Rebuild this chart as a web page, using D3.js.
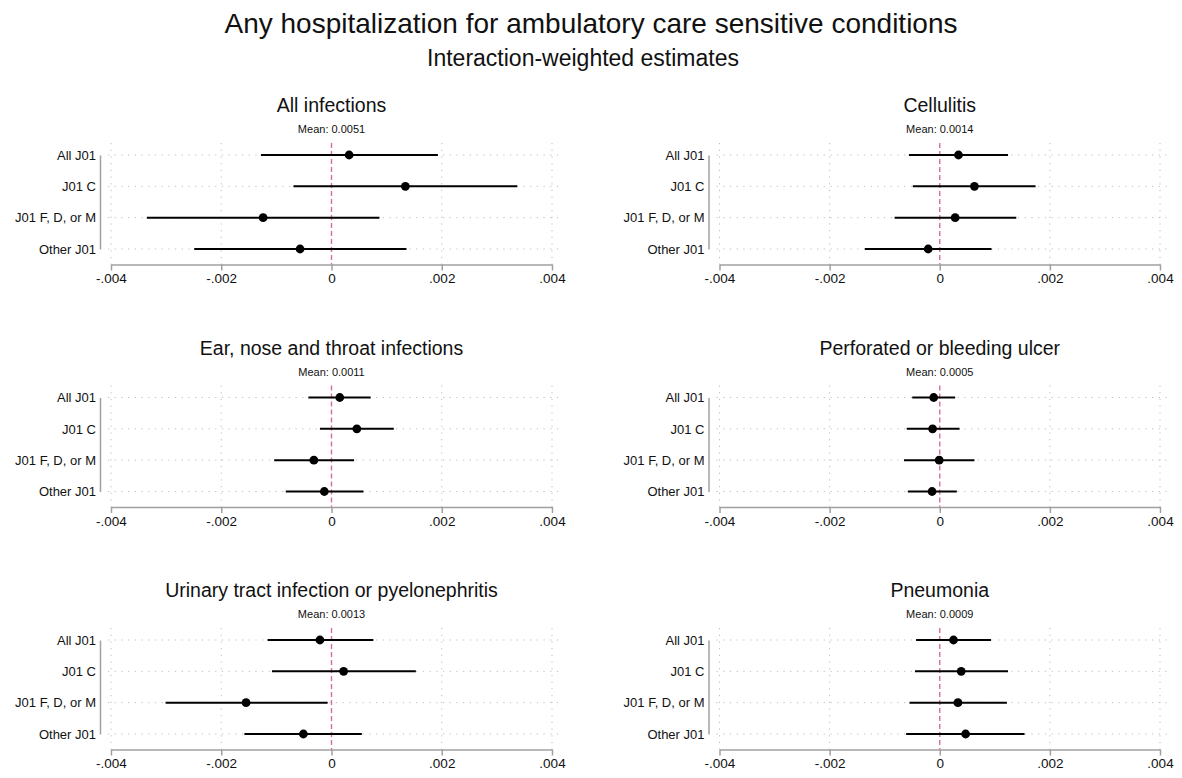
<!DOCTYPE html>
<html>
<head>
<meta charset="utf-8">
<script src="https://cdn.jsdelivr.net/npm/d3@7"></script>
<style>
  body { margin: 0; background: #fff; }
  svg { display: block; font-family: "Liberation Sans", Arial, sans-serif; }
</style>
</head>
<body>
<div id="chart"></div>
<script>
let mainTitle = "Any hospitalization for ambulatory care sensitive conditions"
let subTitle = "Interaction-weighted estimates"

let categories = ["All J01", "J01 C", "J01 F, D, or M", "Other J01"]
let panelTitles = ["All infections", "Cellulitis", "Ear, nose and throat infections",
                   "Perforated or bleeding ulcer", "Urinary tract infection or pyelonephritis", "Pneumonia"]
let panelMeans = ["0.0051", "0.0014", "0.0011", "0.0005", "0.0013", "0.0009"]

let tickValues = [-0.004, -0.002, 0, 0.002, 0.004]
let tickLabels = ["-.004", "-.002", "0", ".002", ".004"]

// point estimates, one row per panel, in category order
let estimates = [
    [0.00032, 0.00134, -0.00124, -0.00057],
    [0.00034, 0.00063, 0.00028, -0.00021],
    [0.00015, 0.00046, -0.00032, -0.00013],
    [-0.00011, -0.00013, -0.00001, -0.00014],
    [-0.00021, 0.00022, -0.00155, -0.00051],
    [0.00025, 0.00039, 0.00033, 0.00047]
]
let ciLow = [
    [-0.00128, -0.00069, -0.00335, -0.00249],
    [-0.00056, -0.00049, -0.00082, -0.00136],
    [-0.00042, -0.00021, -0.00104, -0.00083],
    [-0.00050, -0.00060, -0.00065, -0.00058],
    [-0.00116, -0.00108, -0.00301, -0.00158],
    [-0.00043, -0.00045, -0.00055, -0.00061]
]
let ciHigh = [
    [0.00193, 0.00337, 0.00087, 0.00136],
    [0.00124, 0.00174, 0.00139, 0.00094],
    [0.00071, 0.00113, 0.00041, 0.00058],
    [0.00028, 0.00036, 0.00063, 0.00031],
    [0.00076, 0.00153, -0.00007, 0.00055],
    [0.00093, 0.00124, 0.00122, 0.00154]
]

let width = 1182
let height = 778
let colX = [[111, 552], [719.5, 1160]]
let rowTop = 155
let rowStep = 242.5
let rowSpan = 94

let svg = d3.select('#chart').append('svg')
    .attr('width', width)
    .attr('height', height)

svg.append('rect').attr('width', width).attr('height', height).attr('fill', '#fff')

svg.append('text')
    .attr('x', width / 2).attr('y', 33)
    .attr('text-anchor', 'middle')
    .attr('font-size', 28)
    .attr('fill', '#111')
    .text(mainTitle)

svg.append('text')
    .attr('x', 583).attr('y', 66)
    .attr('text-anchor', 'middle')
    .attr('font-size', 23)
    .attr('fill', '#111')
    .text(subTitle)

let drawPanel = function(i){
    let col = i % 2
    let row = Math.floor(i / 2)
    let top = rowTop + row * rowStep

    let x = d3.scaleLinear().domain([-0.004, 0.004]).range(colX[col])
    let y = d3.scalePoint().domain(categories).range([top, top + rowSpan])

    let g = svg.append('g')
    let axisY = top + rowSpan + 15.5
    let gridTop = top - 12
    let x0 = x.range()[0], x1 = x.range()[1]

    // title + mean
    g.append('text')
        .attr('x', (x0 + x1) / 2).attr('y', top - 43)
        .attr('text-anchor', 'middle')
        .attr('font-size', 19.5)
        .attr('fill', '#111')
        .text(panelTitles[i])

    g.append('text')
        .attr('x', (x0 + x1) / 2).attr('y', top - 22)
        .attr('text-anchor', 'middle')
        .attr('font-size', 11)
        .attr('fill', '#111')
        .text("Mean: " + panelMeans[i])

    // grid
    g.selectAll('.hgrid').data(categories).enter().append('line')
        .attr('x1', x0 - 3).attr('x2', x1 + 11)
        .attr('y1', d => y(d)).attr('y2', d => y(d))
        .attr('stroke', '#bdbdbd').attr('stroke-width', 1)
        .attr('stroke-dasharray', '1.2,5.5')

    g.selectAll('.vgrid').data(tickValues.filter(t => t !== 0)).enter().append('line')
        .attr('x1', d => x(d)).attr('x2', d => x(d))
        .attr('y1', gridTop).attr('y2', axisY)
        .attr('stroke', '#bdbdbd').attr('stroke-width', 1)
        .attr('stroke-dasharray', '1.2,5.5')

    // x axis
    let xAxis = d3.axisBottom(x)
        .tickValues(tickValues)
        .tickFormat((d, k) => tickLabels[k])
        .tickSize(6)
        .tickSizeOuter(0)
        .tickPadding(3)
    let ax = g.append('g').attr('transform', 'translate(0,' + axisY + ')').call(xAxis)
    ax.select('.domain').attr('stroke', '#a0a0a0').attr('stroke-width', 1.5)
    ax.selectAll('.tick line').attr('stroke', '#a0a0a0').attr('stroke-width', 1.5)
    ax.selectAll('.tick text').attr('font-size', 13.5).attr('fill', '#111')
        .attr('font-family', '"Liberation Sans", Arial, sans-serif')

    // y axis
    let yAxis = d3.axisLeft(y).tickSize(0).tickPadding(4)
    let ay = g.append('g').attr('transform', 'translate(' + (x0 - 11) + ',0)').call(yAxis)
    ay.select('.domain').attr('stroke', '#a0a0a0').attr('stroke-width', 1.5)
    ay.selectAll('.tick text').attr('font-size', 13).attr('fill', '#111')
        .attr('font-family', '"Liberation Sans", Arial, sans-serif')

    // zero line
    g.append('line')
        .attr('x1', x(0)).attr('x2', x(0))
        .attr('y1', gridTop).attr('y2', axisY)
        .attr('stroke', '#dc6aa6').attr('stroke-width', 1.4)
        .attr('stroke-dasharray', '5,3')

    // CI + point
    let rows = categories.map((c, k) => ({cat: c, est: estimates[i][k], lo: ciLow[i][k], hi: ciHigh[i][k]}))

    g.selectAll('.ci').data(rows).enter().append('line')
        .attr('x1', d => x(d.lo)).attr('x2', d => x(d.hi))
        .attr('y1', d => y(d.cat)).attr('y2', d => y(d.cat))
        .attr('stroke', '#000').attr('stroke-width', 2)

    g.selectAll('.pt').data(rows).enter().append('circle')
        .attr('cx', d => x(d.est)).attr('cy', d => y(d.cat))
        .attr('r', 4.4)
        .attr('fill', '#000')
}

for (let i = 0; i < panelTitles.length; i++) drawPanel(i)
</script>
</body>
</html>
